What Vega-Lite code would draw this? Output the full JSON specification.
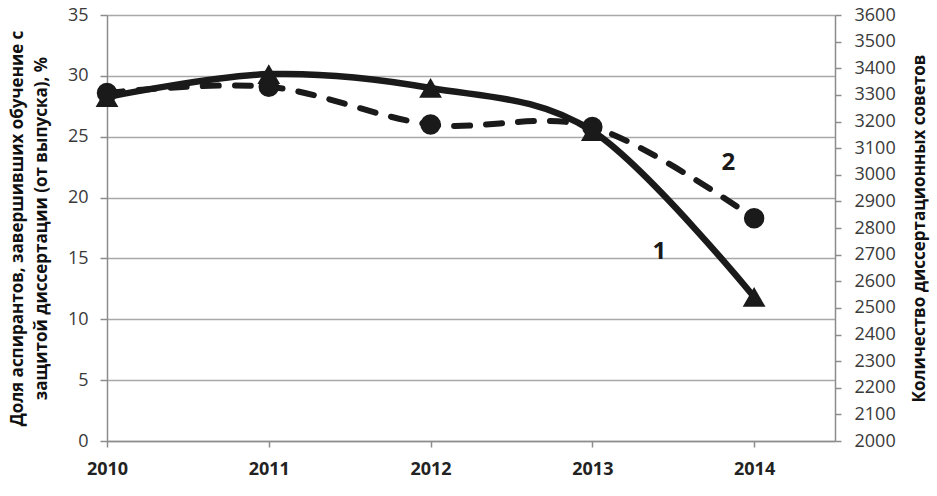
{
  "$schema": "https://vega.github.io/schema/vega-lite/v6.json",
  "width": 728,
  "height": 426,
  "autosize": {"type": "none"},
  "padding": {"left": 107, "top": 15, "right": 102, "bottom": 55},
  "background": "white",
  "config": {"view": {"stroke": null}},
  "datasets": {
    "main": [
      {"year": 2010, "share": 28.6, "councils": 3292},
      {"year": 2011, "share": 29.1, "councils": 3378},
      {"year": 2012, "share": 26.0, "councils": 3326},
      {"year": 2013, "share": 25.8, "councils": 3164},
      {"year": 2014, "share": 18.3, "councils": 2541}
    ],
    "labels": [
      {"year": 2013.414, "share": 15.55, "label": "1"},
      {"year": 2013.841, "share": 22.87, "label": "2"}
    ]
  },
  "encoding": {
    "x": {
      "field": "year",
      "type": "quantitative",
      "scale": {"domain": [2010, 2014.5], "nice": false, "zero": false},
      "axis": {
        "title": null,
        "values": [2010, 2011, 2012, 2013, 2014],
        "format": "d",
        "labelFlush": false,
        "labelOverlap": false,
        "grid": false,
        "domainColor": "#8c8c8c",
        "domainWidth": 1.5,
        "tickColor": "#8c8c8c",
        "tickWidth": 1.5,
        "tickSize": 6,
        "labelFont": "Open Sans",
        "labelFontWeight": "bold",
        "labelFontSize": 18,
        "labelColor": "#222222",
        "labelPadding": 13
      }
    }
  },
  "layer": [
    {
      "data": {"name": "main"},
      "encoding": {
        "y": {
          "field": "councils",
          "type": "quantitative",
          "scale": {"domain": [2000, 3600], "nice": false, "zero": false},
          "axis": {
            "orient": "right",
            "title": "Количество  диссертационных советов",
            "titleAngle": -90,
            "titleX": 84,
            "titleY": 213,
            "titleAlign": "center",
            "titleBaseline": "middle",
            "titleFont": "Open Sans",
            "titleFontWeight": "bold",
            "titleFontSize": 17,
            "titleColor": "#111111",
            "values": [2000, 2100, 2200, 2300, 2400, 2500, 2600, 2700, 2800, 2900, 3000, 3100, 3200, 3300, 3400, 3500, 3600],
            "format": "d",
            "labelFlush": false,
            "labelOverlap": false,
            "grid": false,
            "domainColor": "#8c8c8c",
            "domainWidth": 1.5,
            "tickColor": "#8c8c8c",
            "tickWidth": 1.5,
            "tickSize": 6,
            "labelFont": "Open Sans",
            "labelFontSize": 18,
            "labelColor": "#3a3a3a",
            "labelPadding": 13
          }
        }
      },
      "layer": [
        {
          "mark": {"type": "line", "interpolate": "cardinal", "color": "#1a1a1a", "strokeWidth": 6.5}
        },
        {
          "mark": {"type": "point", "shape": "triangle-up", "filled": true, "color": "#1a1a1a", "size": 520, "opacity": 1}
        }
      ]
    },
    {
      "encoding": {
        "y": {
          "field": "share",
          "type": "quantitative",
          "scale": {"domain": [0, 35], "nice": false},
          "axis": {
            "orient": "left",
            "title": ["Доля аспирантов, завершивших обучение с", "защитой диссертации (от выпуска), %"],
            "titleFont": "Open Sans",
            "titleFontWeight": "bold",
            "titleFontSize": 17,
            "titleColor": "#111111",
            "titleLineHeight": 24,
            "titlePadding": 17,
            "values": [0, 5, 10, 15, 20, 25, 30, 35],
            "labelFlush": false,
            "grid": true,
            "gridColor": "#a8a8a8",
            "gridWidth": 1.5,
            "domainColor": "#8c8c8c",
            "domainWidth": 1.5,
            "tickColor": "#8c8c8c",
            "tickWidth": 1.5,
            "tickSize": 7,
            "labelFont": "Open Sans",
            "labelFontSize": 18,
            "labelColor": "#3a3a3a",
            "labelPadding": 12
          }
        }
      },
      "layer": [
        {
          "data": {"name": "main"},
          "mark": {"type": "line", "interpolate": "cardinal", "color": "#1a1a1a", "strokeWidth": 6, "strokeDash": [16, 16], "strokeCap": "round"}
        },
        {
          "data": {"name": "main"},
          "mark": {"type": "point", "shape": "circle", "filled": true, "color": "#1a1a1a", "size": 420, "opacity": 1}
        },
        {
          "data": {"name": "labels"},
          "mark": {"type": "text", "font": "Open Sans", "fontWeight": "bold", "fontSize": 24, "color": "#1a1a1a", "baseline": "middle", "align": "center"},
          "encoding": {"text": {"field": "label", "type": "nominal"}}
        }
      ]
    }
  ],
  "resolve": {"scale": {"y": "independent"}}
}
